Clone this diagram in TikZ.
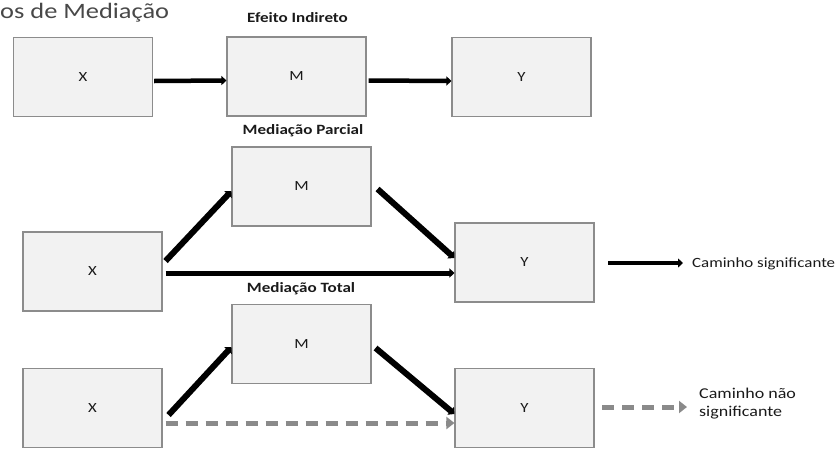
\documentclass[tikz,border=0pt]{standalone}
\usepackage{fontspec}
\setmainfont{Carlito}
\usetikzlibrary{arrows.meta}
\definecolor{boxfill}{HTML}{F2F2F2}
\definecolor{boxline}{HTML}{8C8C8C}
\definecolor{dashgray}{HTML}{8A8A8A}
\definecolor{txt}{HTML}{1A1A1A}
\newcommand{\wide}[1]{\scalebox{1.2}[1]{#1}}
\tikzset{
  var/.style={draw=boxline, line width=1.1pt, fill=boxfill, minimum width=139pt,
    minimum height=79pt, inner sep=0pt, font=\fontsize{14}{16}\selectfont, text=txt},
  heading/.style={font=\bfseries\fontsize{14.2}{16}\selectfont, text=txt, inner sep=0pt},
  legend/.style={font=\fontsize{15}{18}\selectfont, text=txt, inner sep=0pt, anchor=west, align=left},
  sig/.style={line width=4.5pt, black, -{Triangle[length=5pt,width=9pt]}},
  sigd/.style={line width=6pt, black, -{Triangle[length=5pt,width=10pt]}},
  nsig/.style={line width=5pt, dashgray, dash pattern=on 12pt off 8pt,
    -{Triangle[length=8pt,width=12pt]}}
}
\begin{document}
\begin{tikzpicture}[x=1pt, y=-1pt]
\useasboundingbox (0,0) rectangle (836,448);

% title at the top left
\node[anchor=base west, inner sep=0pt, text=txt!80,
  font=\fontsize{22}{26}\selectfont] (title) at (0,18) {\wide{os de Mediação}};

% Efeito Indireto
\node[heading] (h1) at (297.5,18) {\wide{Efeito Indireto}};
\node[var] (x1) at (83,77) {\wide{X}};
\node[var] (m1) at (296.5,76.5) {\wide{M}};
\node[var] (y1) at (521.5,77) {\wide{Y}};
\draw[sig] ([shift={(1,4)}]x1.east) -- ([shift={(0,4)}]m1.west);
\draw[sig] ([shift={(2,4)}]m1.east) -- ([shift={(0,4)}]y1.west);

% Mediação Parcial
\node[heading] (h2) at (303,131) {\wide{Mediação Parcial}};
\node[var] (m2) at (301.5,186.5) {\wide{M}};
\node[var] (x2) at (92.5,271.5) {\wide{X}};
\node[var] (y2) at (524.5,262.5) {\wide{Y}};
\draw[sigd] ([shift={(3,-10.5)}]x2.east) -- ([shift={(0,4.5)}]m2.west);
\draw[sigd] ([shift={(6,2.5)}]m2.east) -- ([shift={(0,-4.5)}]y2.west);
\draw[sig, line width=5pt] ([shift={(3,1.5)}]x2.east) -- ([shift={(0,10.5)}]y2.west);

% legend: significant path
\coordinate (ls1) at (608,263);
\coordinate (ls2) at (683,263);
\draw[sig] (ls1) -- (ls2);
\node[legend, font=\fontsize{14.1}{17}\selectfont] (lt1) at (692,264) {\wide{Caminho significante}};

% Mediação Total
\node[heading] (h3) at (301,289) {\wide{Mediação Total}};
\node[var] (m3) at (301.5,344) {\wide{M}};
\node[var] (x3) at (92.5,408) {\wide{X}};
\node[var] (y3) at (524.5,408) {\wide{Y}};
\draw[sigd] ([shift={(6,7)}]x3.east) -- ([shift={(0,3)}]m3.west);
\draw[sigd] ([shift={(4,4)}]m3.east) -- ([shift={(0,6)}]y3.west);
\draw[nsig] ([shift={(3,15)}]x3.east) -- ([shift={(0,15)}]y3.west);

% legend: non-significant path
\coordinate (ln1) at (602,407);
\coordinate (ln2) at (687,407);
\draw[nsig] (ln1) -- (ln2);
\node[legend] (lt2) at (699,404) {\wide{Caminho não}\\\wide{significante}};
\end{tikzpicture}
\end{document}
